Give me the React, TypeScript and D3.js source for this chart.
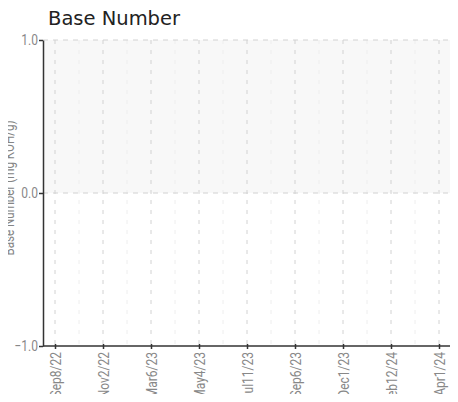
import React, { useEffect, useRef } from "react";
import * as d3 from "d3";

const dateLabels = [
  "Sep8/22",
  "Nov2/22",
  "Mar6/23",
  "May4/23",
  "Jul11/23",
  "Sep6/23",
  "Dec1/23",
  "Feb12/24",
  "Apr1/24",
];
const yTicks = [-1, 0, 1];
const shadedBand = [0, 1];

const W = 458;
const H = 402;
const margin = { top: 40, right: 7, bottom: 56, left: 43 };
const narrow = "Roboto, sans-serif";
const squeeze = 0.8;

export default function App() {
  const svgRef = useRef<SVGSVGElement>(null);

  useEffect(() => {
    const svg = d3.select(svgRef.current);
    svg.selectChildren().remove();

    const width = W - margin.left - margin.right;
    const height = H - margin.top - margin.bottom;

    const x = d3.scalePoint<string>().domain(dateLabels).range([0, width]).padding(0.25);
    const y = d3.scaleLinear().domain([-1, 1]).range([height, 0]);

    const g = svg.append("g").attr("transform", `translate(${margin.left},${margin.top})`);

    // shaded band between 0 and 1
    g.append("rect")
      .attr("x", 0)
      .attr("y", y(shadedBand[1]))
      .attr("width", width)
      .attr("height", y(shadedBand[0]) - y(shadedBand[1]))
      .attr("fill", "#f8f8f8");

    // minor vertical lines at midpoints
    const step = x.step();
    g.append("g")
      .selectAll("line")
      .data(dateLabels.slice(0, -1))
      .enter()
      .append("line")
      .attr("x1", (d) => (x(d) as number) + step / 2)
      .attr("x2", (d) => (x(d) as number) + step / 2)
      .attr("y1", 0)
      .attr("y2", height)
      .attr("stroke", "#eeeeee")
      .attr("stroke-dasharray", "4,6");

    // major vertical lines
    g.append("g")
      .selectAll("line")
      .data(dateLabels)
      .enter()
      .append("line")
      .attr("x1", (d) => x(d) as number)
      .attr("x2", (d) => x(d) as number)
      .attr("y1", 0)
      .attr("y2", height)
      .attr("stroke", "#d2d2d2")
      .attr("stroke-dasharray", "4,6");

    // horizontal grid lines
    g.append("g")
      .selectAll("line")
      .data(yTicks.filter((t) => t > -1))
      .enter()
      .append("line")
      .attr("x1", 0)
      .attr("x2", width)
      .attr("y1", (d) => y(d))
      .attr("y2", (d) => y(d))
      .attr("stroke", "#d2d2d2")
      .attr("stroke-dasharray", "5,5");

    // y axis
    const yAxis = g
      .append("g")
      .call(d3.axisLeft(y).tickValues(yTicks).tickFormat(d3.format(".1f")).tickSize(4).tickSizeOuter(0));
    yAxis.select(".domain").attr("stroke", "#333").attr("stroke-width", 1.5);
    yAxis.selectAll(".tick line").attr("stroke", "#333").attr("stroke-width", 1.5);
    yAxis
      .selectAll(".tick text")
      .attr("fill", "#888")
      .attr("font-size", 15)
      .attr("font-family", narrow)
      .attr("transform", `scale(${squeeze},1)`)
      .attr("x", -5 / squeeze);

    // x axis
    const xAxis = g
      .append("g")
      .attr("transform", `translate(0,${height})`)
      .call(d3.axisBottom(x).tickSize(4).tickSizeOuter(0));
    xAxis.select(".domain").attr("stroke", "#333").attr("stroke-width", 1.5).attr("d", `M0,0H${width}`);
    xAxis.selectAll(".tick line").attr("stroke", "#333").attr("stroke-width", 1.5).attr("y1", -2).attr("y2", 3);
    xAxis
      .selectAll(".tick text")
      .attr("fill", "#888")
      .attr("font-size", 15)
      .attr("font-family", narrow)
      .attr("transform", `rotate(-90) scale(${squeeze},1)`)
      .attr("text-anchor", "end")
      .attr("dy", "0.35em")
      .attr("x", -6 / squeeze)
      .attr("y", 0);

    // y axis title
    svg
      .append("text")
      .attr("transform", `translate(13.5,188) rotate(-90) scale(${squeeze},1)`)
      .attr("text-anchor", "middle")
      .attr("fill", "#858585")
      .attr("font-size", 14.5)
      .attr("font-family", narrow)
      .text("Base Number (mg KOH/g)");

    // title
    svg
      .append("text")
      .attr("x", 48)
      .attr("y", 25)
      .attr("fill", "#222")
      .attr("font-size", 19.5)
      .attr("font-family", "'DejaVu Sans', sans-serif")
      .text("Base Number");
  }, []);

  return (
    <div style={{ margin: -8 }}>
      <svg ref={svgRef} width={W} height={H} style={{ display: "block" }} />
    </div>
  );
}
